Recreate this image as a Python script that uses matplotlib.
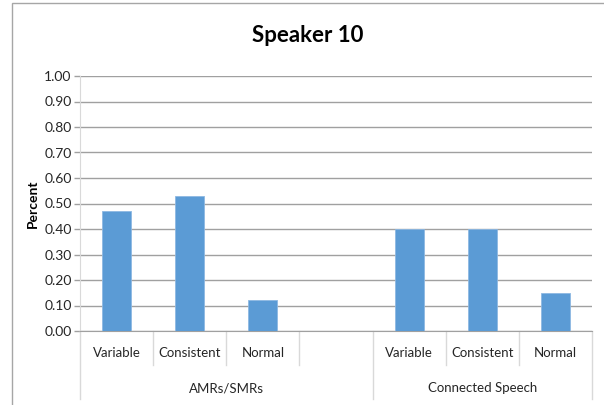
import numpy as np
import matplotlib
matplotlib.use("Agg")
import matplotlib.pyplot as plt
from matplotlib.patches import Rectangle
from matplotlib.lines import Line2D

plt.rcParams['font.family'] = ['Lato', 'DejaVu Sans']

# bar data
categories = ["Variable", "Consistent", "Normal", "", "Variable", "Consistent", "Normal"]
values = [0.47, 0.53, 0.12, np.nan, 0.40, 0.40, 0.15]
groups = ["AMRs/SMRs", "Connected Speech"]
group_sizes = [4, 3]
yticks = np.arange(0, 1.01, 0.10)

bar_color = "#5B9BD5"
grid_color = "#A0A0A0"
txt_color = "#262626"

fig = plt.figure(figsize=(6.04, 4.05), dpi=100)
ax = fig.add_axes([80 / 604, 1 - 331 / 405, 512 / 604, 255 / 405])

x = np.arange(len(categories))
ax.bar(x, values, width=0.4, color=bar_color, edgecolor="#8DB8E2", linewidth=0.6, zorder=3)

ax.set_xlim(-0.5, len(categories) - 0.5)
ax.set_ylim(0, 1.0)
ax.set_yticks(yticks)
ax.set_yticklabels([f"{v:.2f}" for v in yticks], fontsize=10, color=txt_color)
ax.yaxis.grid(True, color=grid_color, linewidth=1.0, zorder=0)
ax.tick_params(axis="y", length=4, width=1.0, color=grid_color, pad=2)
ax.set_xticks([])

for side in ["top", "right"]:
    ax.spines[side].set_visible(False)
ax.spines["left"].set_color("#D9D9D9")
ax.spines["bottom"].set_color(grid_color)

ax.set_ylabel("Percent", fontsize=10, fontweight="bold", labelpad=4, color="black")

# category labels and separators below the axis
trans = ax.get_xaxis_transform()
for i, name in enumerate(categories):
    ax.text(i, -0.088, name, transform=trans, ha="center", va="center",
            fontsize=9.5, color=txt_color)

edges = np.concatenate([[0], np.cumsum(group_sizes)])
group_edges = set(edges.tolist())
for k in range(len(categories) + 1):
    bottom = -0.265 if k in group_edges else -0.135
    ax.add_line(Line2D([k - 0.5, k - 0.5], [0, bottom], transform=trans,
                       color="#D9D9D9", linewidth=1.0, clip_on=False))

for g, name in enumerate(groups):
    mid = (edges[g] + edges[g + 1] - 1) / 2
    ax.text(mid, -0.225, name, transform=trans, ha="center", va="center",
            fontsize=9.5, color=txt_color)

fig.text(308 / 604, 1 - 36 / 405, "Speaker 10", ha="center", va="center",
         fontsize=16, fontweight="bold", color="black")

# chart area border
fig.add_artist(Rectangle((12 / 604, -0.1), 1.1, 1 - 3 / 405 + 0.1,
                         transform=fig.transFigure, fill=False,
                         edgecolor="#A6A6A6", linewidth=1.0))

fig.savefig("out.png", dpi=100)
